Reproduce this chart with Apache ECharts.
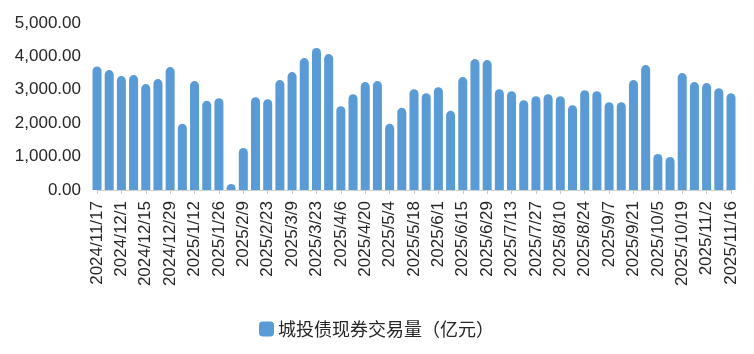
<!DOCTYPE html>
<html>
<head>
<meta charset="utf-8">
<script src="https://cdn.jsdelivr.net/npm/echarts@6/dist/echarts.min.js"></script>
<style>html,body{margin:0;padding:0;background:#fff;}#c{width:754px;height:354px;}</style>
</head>
<body>
<div id="c"></div>
<script>
const categories = [
  "2024/11/17","2024/11/24","2024/12/1","2024/12/8","2024/12/15","2024/12/22","2024/12/29",
  "2025/1/5","2025/1/12","2025/1/19","2025/1/26","2025/2/2","2025/2/9","2025/2/16","2025/2/23",
  "2025/3/2","2025/3/9","2025/3/16","2025/3/23","2025/3/30","2025/4/6","2025/4/13","2025/4/20","2025/4/27",
  "2025/5/4","2025/5/11","2025/5/18","2025/5/25","2025/6/1","2025/6/8","2025/6/15","2025/6/22","2025/6/29",
  "2025/7/6","2025/7/13","2025/7/20","2025/7/27","2025/8/3","2025/8/10","2025/8/17","2025/8/24","2025/8/31",
  "2025/9/7","2025/9/14","2025/9/21","2025/9/28","2025/10/5","2025/10/12","2025/10/19","2025/10/26",
  "2025/11/2","2025/11/9","2025/11/16"
];
const volume = [
  3700,3590,3410,3440,3170,3320,3680,1980,3260,2670,2750,180,1260,2780,2720,
  3290,3530,3950,4250,4070,2510,2870,3230,3260,1980,2460,3020,2900,3080,2370,
  3380,3920,3890,3020,2960,2690,2810,2870,2810,2540,2990,2960,2630,2630,3290,
  3740,1080,990,3500,3230,3200,3050,2900
];
const seriesName = "城投债现券交易量（亿元）";
const yTicks = [0,1000,2000,3000,4000,5000];

const chart = echarts.init(document.getElementById('c'), null, {renderer:'canvas'});
chart.setOption({
  animation: false,
  backgroundColor: '#fff',
  grid: {left: 97, right: 23, top: 23, bottom: 164, containLabel: false},
  legend: {
    data: [seriesName],
    left: 254, top: 315,
    icon: 'roundRect',
    itemWidth: 15, itemHeight: 15, itemGap: 4,
    textStyle: {fontFamily: '"Noto Sans CJK SC", sans-serif', fontSize: 18, color: '#262626', padding: [0,0,0,-1]}
  },
  xAxis: {
    type: 'category',
    data: categories,
    boundaryGap: false,
    axisLine: {lineStyle: {color: '#d0d0d0', width: 1}},
    axisTick: {show: true, interval: 1, length: 4, lineStyle: {color: '#c8c8c8'}},
    axisLabel: {
      interval: 1, rotate: 90, margin: 11,
      fontFamily: '"Liberation Sans", Arial, sans-serif', fontSize: 17, color: '#262626'
    },
    splitLine: {show: false}
  },
  yAxis: {
    type: 'value',
    min: yTicks[0], max: yTicks[yTicks.length-1], interval: 1000,
    axisLine: {show: false}, axisTick: {show: false},
    splitLine: {show: false},
    axisLabel: {
      margin: 16,
      fontFamily: '"Liberation Sans", Arial, sans-serif', fontSize: 17, color: '#262626',
      formatter: v => v.toLocaleString('en-US', {minimumFractionDigits: 2, maximumFractionDigits: 2})
    }
  },
  series: [{
    name: seriesName,
    type: 'bar',
    data: volume,
    barWidth: 9,
    clip: true,
    itemStyle: {color: '#5B9BD5', borderRadius: [4.5,4.5,0,0]}
  }]
});
</script>
</body>
</html>
